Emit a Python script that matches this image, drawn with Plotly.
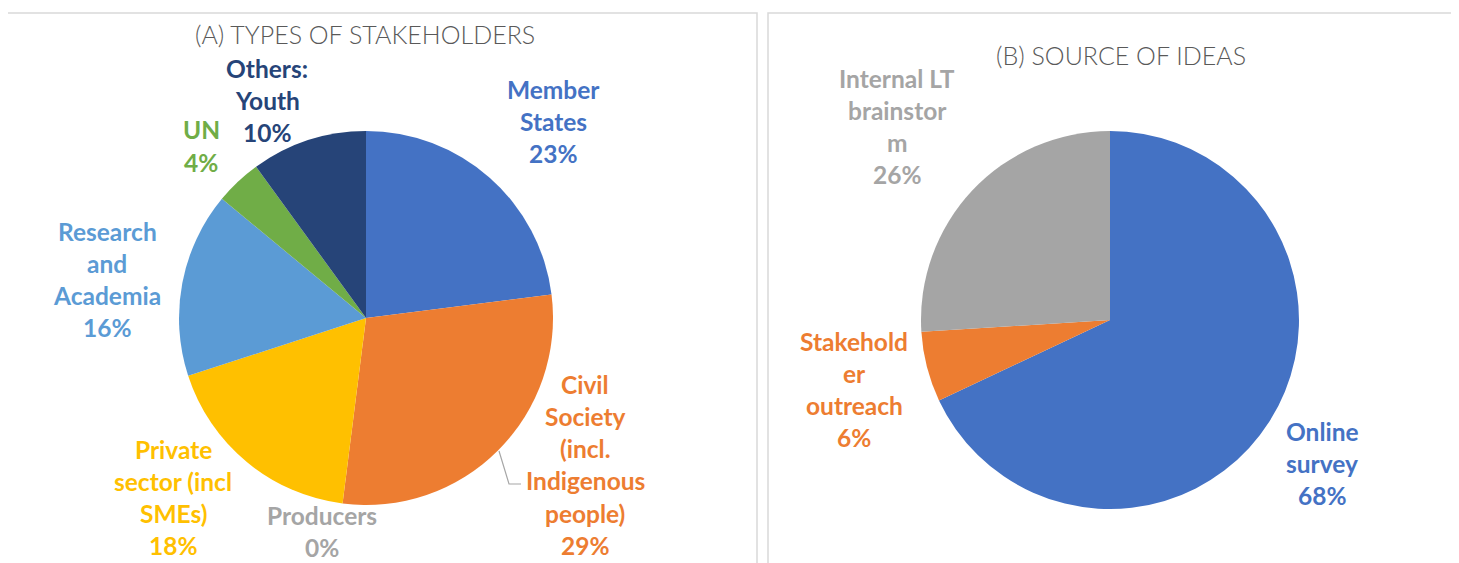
import plotly.graph_objects as go

W, H = 1459, 563
OFF = 8  # page body margin in the browser
FW, FH = W - OFF, H - OFF

# ---- data ----
stakeholder_labels = ["Member States", "Civil Society (incl. Indigenous people)", "Producers",
                      "Private sector (incl SMEs)", "Research and Academia", "UN", "Others: Youth"]
stakeholder_values = [23, 29, 0, 18, 16, 4, 10]
stakeholder_colors = ["#4472C4", "#ED7D31", "#A5A5A5", "#FFC000", "#5B9BD5", "#70AD47", "#264478"]
stakeholder_label_lines = [["Member", "States"], ["Civil", "Society", "(incl.", "Indigenous", "people)"],
                           ["Producers"], ["Private", "sector (incl", "SMEs)"], ["Research", "and", "Academia"],
                           ["UN"], ["Others:", "Youth"]]

source_labels = ["Online survey", "Stakeholder outreach", "Internal LT brainstorm"]
source_values = [68, 6, 26]
source_colors = ["#4472C4", "#ED7D31", "#A5A5A5"]
source_label_lines = [["Online", "survey"], ["Stakehold", "er", "outreach"], ["Internal LT", "brainstor", "m"]]

# ---- layout helpers (pixel positions of label blocks: center x, first-line y) ----
stake_label_pos = [(553, 89), (585, 384), (322, 515), (173, 449), (107, 231), (201, 130), (267, 68)]
source_label_pos = [(1322, 431), (854, 341), (897, 78)]
LINE_H = 32.3


def px(x):
    return (x - OFF) / FW


def py(y):
    return 1 - (y - OFF) / FH


def px_domain(cx, cy, r):
    return dict(x=[px(cx - r), px(cx + r)], y=[py(cy + r), py(cy - r)])


fig = go.Figure()
fig.add_trace(go.Pie(labels=stakeholder_labels, values=stakeholder_values, sort=False,
                     direction="clockwise", rotation=0,
                     marker=dict(colors=stakeholder_colors, line=dict(width=0)),
                     textinfo="none", hoverinfo="label+percent", showlegend=False,
                     domain=px_domain(366, 318, 187)))
fig.add_trace(go.Pie(labels=source_labels, values=source_values, sort=False,
                     direction="clockwise", rotation=0,
                     marker=dict(colors=source_colors, line=dict(width=0)),
                     textinfo="none", hoverinfo="label+percent", showlegend=False,
                     domain=px_domain(1110, 320, 189)))

FONT = "Lato, 'Open Sans', sans-serif"
annotations = []


def add_labels(lines_list, values, colors, positions):
    total = sum(values)
    for lines, v, c, (x, y) in zip(lines_list, values, colors, positions):
        all_lines = lines + [f"{round(100 * v / total)}%"]
        for i, t in enumerate(all_lines):
            annotations.append(dict(
                text=f"<b>{t}</b>", x=px(x), y=py(y + i * LINE_H),
                xref="paper", yref="paper", xanchor="center", yanchor="middle",
                showarrow=False, font=dict(family=FONT, size=24.5, color=c)))


add_labels(stakeholder_label_lines, stakeholder_values, stakeholder_colors, stake_label_pos)
add_labels(source_label_lines, source_values, source_colors, source_label_pos)

annotations.append(dict(text="(A) TYPES OF STAKEHOLDERS", x=px(365), y=py(34), xref="paper", yref="paper",
                        xanchor="center", yanchor="middle", showarrow=False,
                        font=dict(family=FONT, size=25, color="#595959", weight=300)))
annotations.append(dict(text="(B) SOURCE OF IDEAS", x=px(1121), y=py(55), xref="paper", yref="paper",
                        xanchor="center", yanchor="middle", showarrow=False,
                        font=dict(family=FONT, size=25, color="#595959", weight=300)))

shapes = [
    dict(type="rect", xref="paper", yref="paper", x0=px(5), x1=px(757), y0=-0.05, y1=py(13),
         line=dict(color="#D9D9D9", width=1.5), fillcolor="rgba(0,0,0,0)", layer="below"),
    dict(type="rect", xref="paper", yref="paper", x0=px(768), x1=px(1455), y0=-0.05, y1=py(13),
         line=dict(color="#D9D9D9", width=1.5), fillcolor="rgba(0,0,0,0)", layer="below"),
    dict(type="path", xref="paper", yref="paper",
         path=f"M {px(499)} {py(451)} L {px(509)} {py(484)} L {px(521)} {py(484)}",
         line=dict(color="#A6A6A6", width=1.2)),
]

fig.update_layout(width=FW, height=FH, margin=dict(l=0, r=0, t=0, b=0),
                  paper_bgcolor="white", plot_bgcolor="white",
                  annotations=annotations, shapes=shapes)

fig.write_html("out.html")
